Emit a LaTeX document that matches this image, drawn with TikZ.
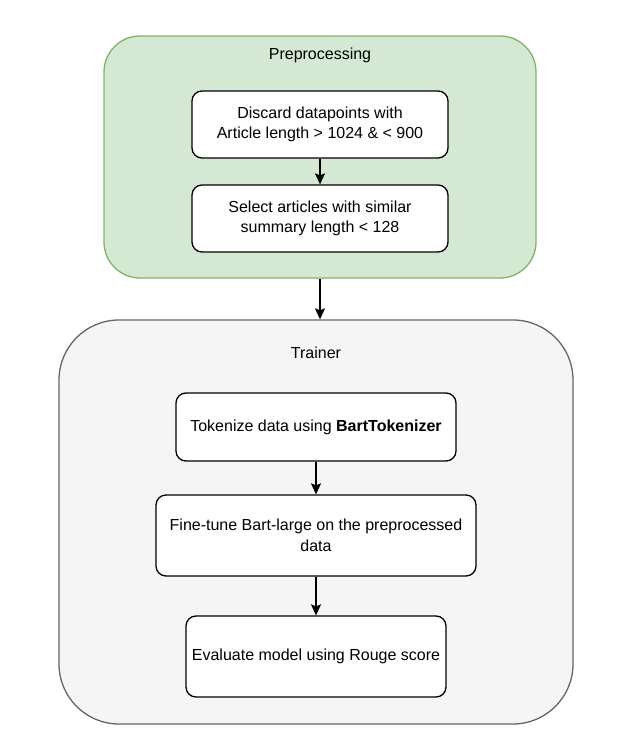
\documentclass[tikz,border=0pt]{standalone}
\usepackage{fontspec}
\setmainfont{Liberation Sans}
\usetikzlibrary{arrows.meta}
\definecolor{prefill}{HTML}{D5E8D4}
\definecolor{predraw}{HTML}{82B366}
\definecolor{trnfill}{HTML}{F5F5F5}
\definecolor{trndraw}{HTML}{666666}
\begin{document}
\begin{tikzpicture}[x=1pt,y=-1pt,line width=1.3pt,
  font=\fontsize{16}{20.5}\selectfont,
  stepbox/.style={draw=black,fill=white,rounded corners=10pt,align=center,inner sep=0pt},
  flow/.style={-{Stealth[length=11pt,width=10pt,inset=2pt]}}]
\useasboundingbox (0,0) rectangle (634,749);
\node[draw=predraw,fill=prefill,rounded corners=36pt,minimum width=432pt,minimum height=242pt] (pre) at (320,157) {};
\node (preT) at (320,55) {Preprocessing};
\node[stepbox,minimum width=256pt,minimum height=67pt] (discard) at (320,124.5) {Discard datapoints with\\Article length > 1024 \& < 900};
\node[stepbox,minimum width=256pt,minimum height=67pt] (select) at (320,218.5) {Select articles with similar\\summary length < 128};
\draw[flow] (discard) to (select);

\node[draw=trndraw,fill=trnfill,rounded corners=60pt,minimum width=514pt,minimum height=404pt] (trn) at (316,522) {};
\node (trnT) at (316,353) {Trainer};
\node[stepbox,minimum width=280pt,minimum height=68pt] (token) at (316,427) {Tokenize data using \textbf{BartTokenizer}};
\node[stepbox,minimum width=320pt,minimum height=81pt] (tune) at (316,535.5) {Fine-tune Bart-large on the preprocessed\\data};
\node[stepbox,minimum width=260pt,minimum height=81pt] (eval) at (316,656.5) {Evaluate model using Rouge score};
\draw[flow] (token) to (tune);
\draw[flow] (tune) to (eval);

\draw[flow] (pre.south) to (pre.south |- trn.north);
\end{tikzpicture}
\end{document}
